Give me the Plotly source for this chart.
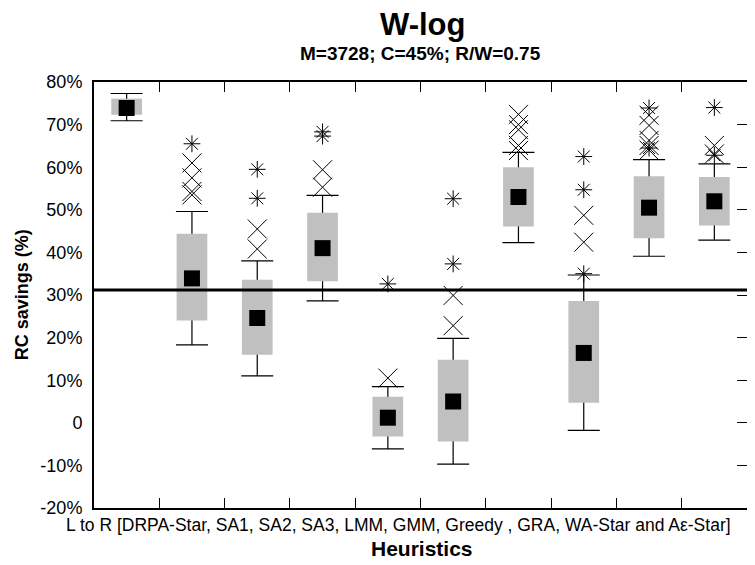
import plotly.graph_objects as go

# ---------------- data ----------------
CATEGORIES = ["DRPA-Star", "SA1", "SA2", "SA3", "LMM", "GMM", "Greedy", "GRA", "WA-Star", "Aε-Star"]
UPPER = [77.3, 49.6, 38.0, 53.4, 8.5, 19.8, 63.5, 34.7, 61.8, 60.8]
Q3 = [76.1, 44.4, 33.6, 49.3, 6.1, 14.8, 60.0, 28.6, 57.9, 57.7]
MEAN = [73.9, 33.9, 24.6, 41.0, 1.2, 5.0, 53.0, 16.4, 50.5, 52.0]
Q1 = [72.3, 24.0, 16.0, 33.2, -3.2, -4.4, 46.1, 4.7, 43.3, 46.3]
LOWER = [70.9, 18.3, 11.0, 28.6, -6.1, -9.7, 42.3, -1.8, 39.1, 42.9]

# outliers drawn as "x"
X_OUT_CAT = ["SA1", "SA1", "SA1", "SA1", "SA2", "SA2", "SA3", "SA3", "LMM", "GMM", "GMM",
             "Greedy", "Greedy", "Greedy", "Greedy", "Greedy", "GRA", "GRA",
             "WA-Star", "WA-Star", "WA-Star", "WA-Star", "WA-Star", "Aε-Star", "Aε-Star"]
X_OUT_VAL = [61.0, 57.5, 54.3, 53.5, 45.5, 40.8, 59.4, 55.3, 10.5, 29.9, 22.8,
             72.4, 70.0, 68.8, 65.1, 63.9, 48.7, 42.4,
             72.2, 69.8, 66.3, 65.1, 64.0, 65.1, 63.1]
# outliers drawn as "*"
S_OUT_CAT = ["SA1", "SA2", "SA2", "SA3", "SA3", "LMM", "GMM", "GMM", "GRA", "GRA", "GRA",
             "WA-Star", "WA-Star", "Aε-Star", "Aε-Star"]
S_OUT_VAL = [65.5, 59.5, 52.7, 68.3, 67.3, 32.6, 52.6, 37.3, 62.5, 54.7, 35.0,
             73.9, 64.5, 74.0, 62.8]

THRESHOLD = 31.2
Y_TICKS = [-20, -10, 0, 10, 20, 30, 40, 50, 60, 70, 80]
Y_TICKTEXT = ["-20%", "-10%", "0", "10%", "20%", "30%", "40%", "50%", "60%", "70%", "80%"]

TITLE = "W-log"
SUBTITLE = "M=3728; C=45%; R/W=0.75"
X_LABEL = "L to R [DRPA-Star, SA1, SA2, SA3, LMM, GMM, Greedy , GRA, WA-Star and Aε-Star]"
X_TITLE = "Heuristics"
Y_TITLE = "RC savings (%)"

FONT = "Arial, Liberation Sans, sans-serif"

# page body adds an 8px offset, so the figure is drawn 8px smaller with shifted margins
PLOT_H = 426

fig = go.Figure()

# whiskers: transparent bar spanning lower..upper carrying error bars with caps
fig.add_trace(go.Bar(
    x=CATEGORIES,
    base=LOWER,
    y=[u - l for u, l in zip(UPPER, LOWER)],
    width=0.47,
    marker=dict(color="rgba(0,0,0,0)", line=dict(width=0)),
    error_y=dict(type="data", symmetric=False,
                 array=[0] * len(CATEGORIES),
                 arrayminus=[u - l for u, l in zip(UPPER, LOWER)],
                 color="black", thickness=1.2, width=16),
    showlegend=False, hoverinfo="skip",
))

# boxes (Q1..Q3)
fig.add_trace(go.Bar(
    x=CATEGORIES,
    base=Q1,
    y=[a - b for a, b in zip(Q3, Q1)],
    width=0.47,
    marker=dict(color="#c0c0c0", line=dict(width=0)),
    showlegend=False,
))

# outliers
fig.add_trace(go.Scatter(
    x=X_OUT_CAT, y=X_OUT_VAL, mode="markers",
    marker=dict(symbol="x-thin-open", size=19, color="black", line=dict(width=1, color="black")),
    showlegend=False,
))
fig.add_trace(go.Scatter(
    x=S_OUT_CAT, y=S_OUT_VAL, mode="markers",
    marker=dict(symbol="asterisk-open", size=14, color="black", line=dict(width=1, color="black")),
    showlegend=False,
))

# means
fig.add_trace(go.Scatter(
    x=CATEGORIES, y=MEAN, mode="markers",
    marker=dict(symbol="square", size=16, color="black", line=dict(width=0)),
    showlegend=False,
))

# dummy trace for the right-hand tick axis
fig.add_trace(go.Scatter(x=[CATEGORIES[0]], y=[None], yaxis="y2", mode="markers",
                         showlegend=False, hoverinfo="skip"))

fig.add_hline(y=THRESHOLD, line=dict(color="black", width=3))


def py(pix):
    """paper y for an absolute pixel row of the reference (plot bottom at 508)"""
    return (508 - pix) / PLOT_H


def px(pix):
    return (pix - 94) / 655


fig.update_layout(
    width=747, height=557,
    margin=dict(l=86, r=6, t=74, b=57),
    paper_bgcolor="white", plot_bgcolor="white",
    barmode="overlay",
    font=dict(family=FONT, color="black", size=16),
    xaxis=dict(
        type="category", categoryorder="array", categoryarray=CATEGORIES,
        range=[-0.5, len(CATEGORIES) - 0.5],
        tickson="boundaries", ticks="inside", ticklen=10, tickwidth=1, tickcolor="black",
        showticklabels=False, showgrid=False, zeroline=False,
        showline=True, linecolor="black", linewidth=2, mirror="ticks",
    ),
    yaxis=dict(
        range=[-20, 80], tickvals=Y_TICKS, ticktext=Y_TICKTEXT,
        ticks="", showgrid=False, zeroline=False,
        showline=True, linecolor="black", linewidth=2, mirror=True,
        tickfont=dict(size=18), ticklabelstandoff=6,
    ),
    yaxis2=dict(
        overlaying="y", side="right", range=[-20, 80], tickvals=Y_TICKS,
        ticks="inside", ticklen=10, tickwidth=1, tickcolor="black",
        showticklabels=False, showgrid=False, zeroline=False, showline=False,
    ),
    annotations=[
        dict(text="<b>" + TITLE + "</b>", xref="paper", yref="paper", x=px(424), y=py(24),
             xanchor="center", yanchor="middle", showarrow=False, font=dict(size=31)),
        dict(text="<b>" + SUBTITLE + "</b>", xref="paper", yref="paper", x=px(421), y=py(53),
             xanchor="center", yanchor="middle", showarrow=False, font=dict(size=19)),
        dict(text=X_LABEL, xref="paper", yref="paper", x=px(399), y=py(525),
             xanchor="center", yanchor="middle", showarrow=False, font=dict(size=17.5)),
        dict(text="<b>" + X_TITLE + "</b>", xref="paper", yref="paper", x=px(423),
             y=py(548), xanchor="center", yanchor="middle", showarrow=False,
             font=dict(size=21)),
        dict(text="<b>" + Y_TITLE + "</b>", xref="paper", yref="paper", x=px(22), y=py(295),
             xanchor="center", yanchor="middle", textangle=-90, showarrow=False,
             font=dict(size=18)),
    ],
)

fig.write_html("out.html")
